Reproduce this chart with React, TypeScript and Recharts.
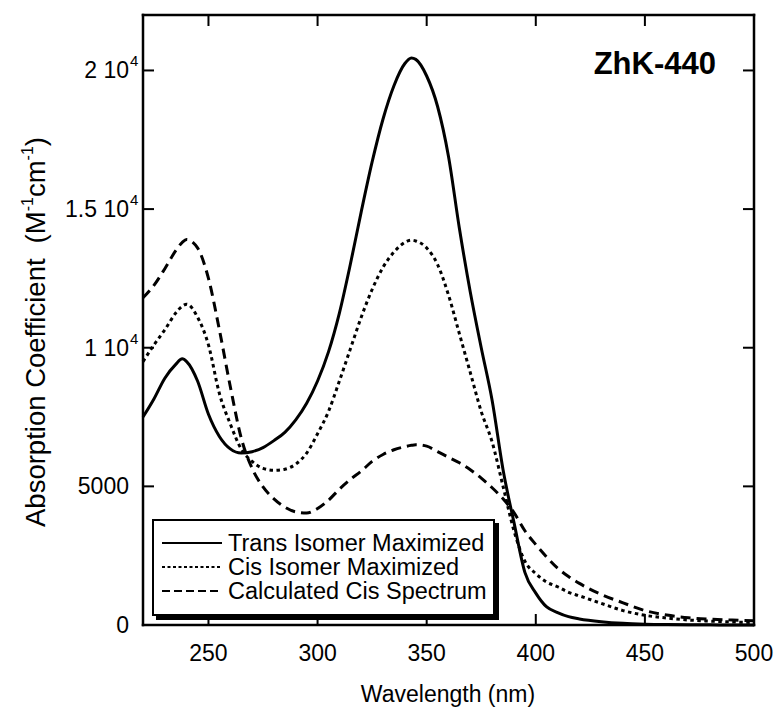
import React from "react";
import { LineChart, Line, XAxis, YAxis } from "recharts";

const font = "'Liberation Sans', Arial, Helvetica, sans-serif";

// wavelength (nm)
const wavelengths = [
  220, 225, 230, 235, 238, 240, 245, 250, 255, 260,
  265, 270, 275, 280, 285, 290, 295, 300, 305, 310,
  315, 320, 325, 330, 335, 340, 343, 345, 350, 355,
  360, 365, 370, 375, 380, 385, 390, 395, 400, 405,
  410, 415, 420, 430, 440, 450, 460, 470, 480, 490,
  500,
];

// absorption coefficient (M^-1 cm^-1)
const transMax = [
  7500, 8150, 8900, 9400, 9600, 9500, 8800, 7600, 6800, 6350,
  6200, 6250, 6400, 6650, 6950, 7400, 8000, 8800, 9850, 11250,
  13000, 14900, 16700, 18250, 19450, 20250, 20450, 20400, 19800, 18700,
  16900, 14300, 12000, 10000, 8100, 5600, 3700, 1900, 1150, 650,
  450, 300, 220, 120, 60, 30, 15, 8, 5, 0,
  0,
];

const cisMax = [
  9500, 10100, 10650, 11250, 11500, 11570, 11100, 10100, 8350, 7250,
  6350, 5900, 5650, 5580, 5620, 5800, 6200, 6900, 7700, 8800,
  9950, 11100, 12100, 12900, 13450, 13800, 13880, 13850, 13600, 13000,
  11900, 10500, 9100, 7700, 6600, 5000, 3400, 2300, 1850, 1550,
  1380, 1180, 1050, 780, 520, 350, 250, 180, 140, 110,
  90,
];

const cisCalc = [
  11800, 12250, 12850, 13500, 13800, 13900, 13600, 12500, 10650, 8600,
  6750, 5650, 4980, 4550, 4250, 4080, 4040, 4200, 4500, 4900,
  5250, 5550, 5900, 6150, 6320, 6430, 6480, 6500, 6450, 6250,
  6050, 5850, 5600, 5300, 4950, 4550, 4050, 3400, 2900, 2450,
  2050, 1750, 1500, 1100, 800, 520, 360, 260, 210, 180,
  150,
];

const xDomain = [220, 500];
const yDomain = [0, 22000];
const xTicks = [250, 300, 350, 400, 450, 500];
const yTicks = [0, 5000, 10000, 15000, 20000];
const yTickText = ["0", "5000", "1 10", "1.5 10", "2 10"];
const yTickExp = ["", "", "4", "4", "4"];

const series = [
  { key: "trans", name: "Trans Isomer Maximized", dash: "", legendDash: "" },
  { key: "cis", name: "Cis Isomer Maximized", dash: "3.5 3.5", legendDash: "3 2.5" },
  { key: "calc", name: "Calculated Cis Spectrum", dash: "10 6", legendDash: "8 4" },
];

const data = wavelengths.map((w, i) => ({
  w,
  trans: transMax[i],
  cis: cisMax[i],
  calc: cisCalc[i],
}));

// plot box (matches chart margins + axis sizes below)
const W = 777;
const H = 710;
const LEFT = 143;
const TOP = 15;
const RIGHT = 754;
const BOTTOM = 625;
const TICK = 11;
const LW = 2.5;

const px = (v: number) => LEFT + ((v - xDomain[0]) / (xDomain[1] - xDomain[0])) * (RIGHT - LEFT);
const py = (v: number) => BOTTOM - ((v - yDomain[0]) / (yDomain[1] - yDomain[0])) * (BOTTOM - TOP);

const BottomTick = (props: any) => {
  const { x, y, payload } = props;
  return (
    <text x={x} y={y + 36} textAnchor="middle" fill="#000" fontSize={23} fontFamily={font}>
      {payload.value}
    </text>
  );
};

const LeftTick = (props: any) => {
  const { x, y, payload } = props;
  const i = yTicks.indexOf(payload.value);
  return (
    <g>
      <text x={x - 14} y={y + 8} textAnchor="end" fill="#000" fontSize={23} fontFamily={font}>
        {yTickText[i]}
      </text>
      {yTickExp[i] && (
        <text x={x - 13} y={y - 4} textAnchor="start" fill="#000" fontSize={15} fontFamily={font}>
          {yTickExp[i]}
        </text>
      )}
    </g>
  );
};

const YLabel = () => (
  <text
    transform="translate(45,332) rotate(-90)"
    textAnchor="middle"
    fontSize={27.5}
    fontFamily={font}
    fill="#000"
  >
    Absorption Coefficient
    <tspan dx={15}>(M</tspan>
    <tspan dy={-12} fontSize={16}>-1</tspan>
    <tspan dy={12}>cm</tspan>
    <tspan dy={-12} fontSize={16}>-1</tspan>
    <tspan dy={12}>)</tspan>
  </text>
);

const XLabel = () => (
  <text x={448} y={702} textAnchor="middle" fontSize={23} fontFamily={font} fill="#000">
    Wavelength (nm)
  </text>
);

const TitleLabel = () => (
  <text x={716} y={74} textAnchor="end" fontSize={31} fontWeight="bold" fontFamily={font} fill="#000">
    ZhK-440
  </text>
);

// frame with inward ticks on all four sides, drawn as filled bars
const Frame = () => (
  <svg
    width={W}
    height={H}
    style={{ position: "absolute", left: 0, top: 0, pointerEvents: "none" }}
  >
    <g fill="#000">
      <rect x={LEFT - LW / 2} y={TOP - LW / 2} width={RIGHT - LEFT + LW} height={LW} />
      <rect x={LEFT - LW / 2} y={BOTTOM - LW / 2} width={RIGHT - LEFT + LW} height={LW} />
      <rect x={LEFT - LW / 2} y={TOP - LW / 2} width={LW} height={BOTTOM - TOP + LW} />
      <rect x={RIGHT - LW / 2} y={TOP - LW / 2} width={LW} height={BOTTOM - TOP + LW} />
      {xTicks.map((t) => (
        <g key={`x${t}`}>
          <rect x={px(t) - 1} y={BOTTOM - TICK} width={2} height={TICK} />
          <rect x={px(t) - 1} y={TOP} width={2} height={TICK} />
        </g>
      ))}
      {yTicks.map((t) => (
        <g key={`y${t}`}>
          <rect x={LEFT} y={py(t) - 1} width={TICK} height={2} />
          <rect x={RIGHT - TICK} y={py(t) - 1} width={TICK} height={2} />
        </g>
      ))}
    </g>
  </svg>
);

const LegendBox = () => (
  <div
    style={{
      position: "absolute",
      left: 152,
      top: 519,
      width: 339,
      height: 93,
      border: "2px solid #000",
      boxShadow: "4px 4px 0 #000",
      background: "#fff",
    }}
  >
    <svg width={339} height={93} style={{ display: "block" }}>
      {series.map((s, i) => (
        <g key={s.key}>
          <line
            x1={8}
            x2={68}
            y1={22 + i * 24}
            y2={22 + i * 24}
            stroke="#000"
            strokeWidth={2}
            strokeDasharray={s.legendDash || undefined}
          />
          <text x={74} y={30 + i * 24} fontSize={23.5} fontFamily={font} fill="#000">
            {s.name}
          </text>
        </g>
      ))}
    </svg>
  </div>
);

export default function App() {
  return (
    <div style={{ position: "absolute", left: 0, top: 0, width: W, height: H, background: "#fff" }}>
      <LineChart width={W} height={H} data={data} margin={{ top: 14, right: 22, bottom: 0, left: 0 }}>
        <XAxis
          xAxisId="b"
          dataKey="w"
          type="number"
          domain={xDomain}
          ticks={xTicks}
          height={85}
          axisLine={false}
          tickLine={false}
          tickSize={0}
          tickMargin={0}
          tick={<BottomTick />}
          label={{ content: XLabel }}
        />
        <XAxis
          xAxisId="t"
          dataKey="w"
          type="number"
          orientation="top"
          domain={xDomain}
          ticks={xTicks}
          height={1}
          axisLine={false}
          tickLine={false}
          tick={false}
          label={{ content: TitleLabel }}
        />
        <YAxis
          yAxisId="l"
          type="number"
          domain={yDomain}
          ticks={yTicks}
          width={143}
          axisLine={false}
          tickLine={false}
          tickSize={0}
          tickMargin={0}
          tick={<LeftTick />}
          label={{ content: YLabel }}
        />
        <YAxis
          yAxisId="r"
          type="number"
          orientation="right"
          domain={yDomain}
          ticks={yTicks}
          width={1}
          axisLine={false}
          tickLine={false}
          tick={false}
        />
        {series.map((s) => (
          <Line
            key={s.key}
            xAxisId="b"
            yAxisId="l"
            type="monotone"
            dataKey={s.key}
            name={s.name}
            stroke="#000"
            strokeWidth={3}
            strokeDasharray={s.dash || undefined}
            dot={false}
            isAnimationActive={false}
          />
        ))}
      </LineChart>
      <Frame />
      <LegendBox />
    </div>
  );
}
